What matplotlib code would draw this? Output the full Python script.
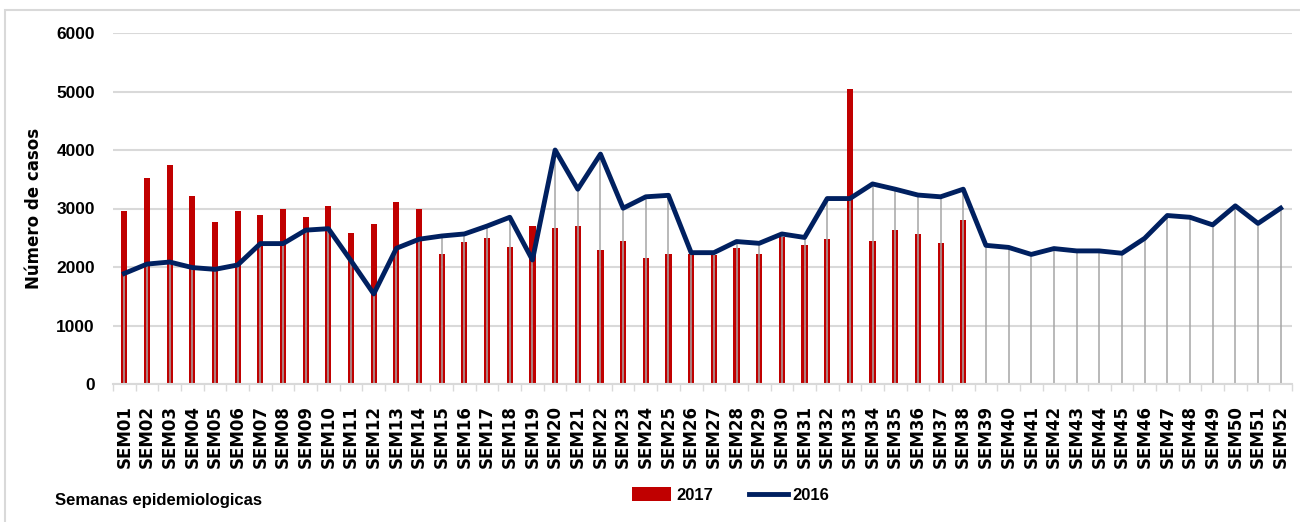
import numpy as np
import matplotlib
matplotlib.use("Agg")
import matplotlib.pyplot as plt
from matplotlib.patches import Rectangle

# weeks
semanas = ["SEM%02d" % i for i in range(1, 53)]

# 2017 cases (bars, only up to week 38)
casos_2017 = [2950, 3520, 3750, 3210, 2770, 2950, 2890, 2990, 2855, 3045,
              2580, 2735, 3110, 2990, 2220, 2425, 2495, 2350, 2700, 2660,
              2700, 2285, 2445, 2155, 2220, 2220, 2205, 2320, 2220, 2505,
              2380, 2480, 5045, 2445, 2630, 2570, 2410, 2800]

# 2016 cases (line)
casos_2016 = [1890, 2050, 2085, 1990, 1960, 2035, 2400, 2400, 2630, 2655,
              2105, 1540, 2320, 2475, 2530, 2565, 2700, 2850, 2120, 4000,
              3330, 3930, 3005, 3200, 3225, 2245, 2245, 2435, 2405, 2565,
              2505, 3170, 3170, 3420, 3330, 3230, 3200, 3330, 2370, 2335,
              2215, 2315, 2275, 2275, 2235, 2490, 2880, 2850, 2720, 3045,
              2745, 3005]

sans = ['Liberation Sans', 'DejaVu Sans']
grid_col = '#D9D9D9'

fig = plt.figure(figsize=(13, 5.22), dpi=100)
ax = fig.add_axes([113/1300, 1 - 384/522, (1292-113)/1300, (384-33)/522])

x = np.arange(len(semanas))
x17 = np.arange(len(casos_2017))

# drop lines from the 2016 line to the axis
ax.vlines(x, 0, casos_2016, color='#A6A6A6', lw=1.1, zorder=2)
bars = ax.bar(x17, casos_2017, width=0.27, color='#C00000', zorder=1, label='2017')
line, = ax.plot(x, casos_2016, color='#002060', lw=3.5, zorder=3, label='2016',
                solid_joinstyle='round')

ax.set_xlim(-0.5, len(semanas) - 0.5)
ax.set_ylim(0, 6000)
ax.set_yticks(range(0, 6001, 1000))
ax.set_yticklabels([str(v) for v in range(0, 6001, 1000)],
                   family=sans, fontweight='bold', fontsize=12.5)
ax.set_xticks(x)
ax.set_xticklabels(semanas, rotation=90, fontweight='bold', fontsize=12)
ax.set_xticks(np.arange(-0.5, len(semanas), 1), minor=True)
ax.tick_params(axis='x', which='major', length=0, pad=15)
ax.tick_params(axis='x', which='minor', length=5, color=grid_col, width=1)
ax.tick_params(axis='y', length=0, pad=13)

ax.grid(axis='y', color=grid_col, lw=1.5)
ax.set_axisbelow(True)
for s in ['top', 'right', 'left']:
    ax.spines[s].set_visible(False)
ax.spines['bottom'].set_color(grid_col)
ax.spines['bottom'].set_linewidth(1.5)

ax.set_ylabel('Número de casos', fontweight='bold', fontsize=12)
ax.yaxis.set_label_coords((43 - 113) / 1179, 0.5)

fig.text(55/1300, 1 - 500/522, 'Semanas epidemiologicas', family=sans,
         fontweight='bold', fontsize=12, va='center', ha='left')

ax.legend([bars, line], ['2017', '2016'], loc='center',
          bbox_to_anchor=(731/1300, 1 - 495/522),
          bbox_transform=fig.transFigure, ncol=2, frameon=False,
          prop={'family': sans, 'weight': 'bold', 'size': 12},
          handlelength=2.33, handleheight=0.85, handletextpad=0.3,
          columnspacing=2.15)

# chart area border
fig.patches.append(Rectangle((5/1300, -0.05), 1.2, 1 - 10/522 + 0.05,
                             transform=fig.transFigure, fill=False,
                             edgecolor=grid_col, lw=1.5))

fig.savefig('out.png', dpi=100)
